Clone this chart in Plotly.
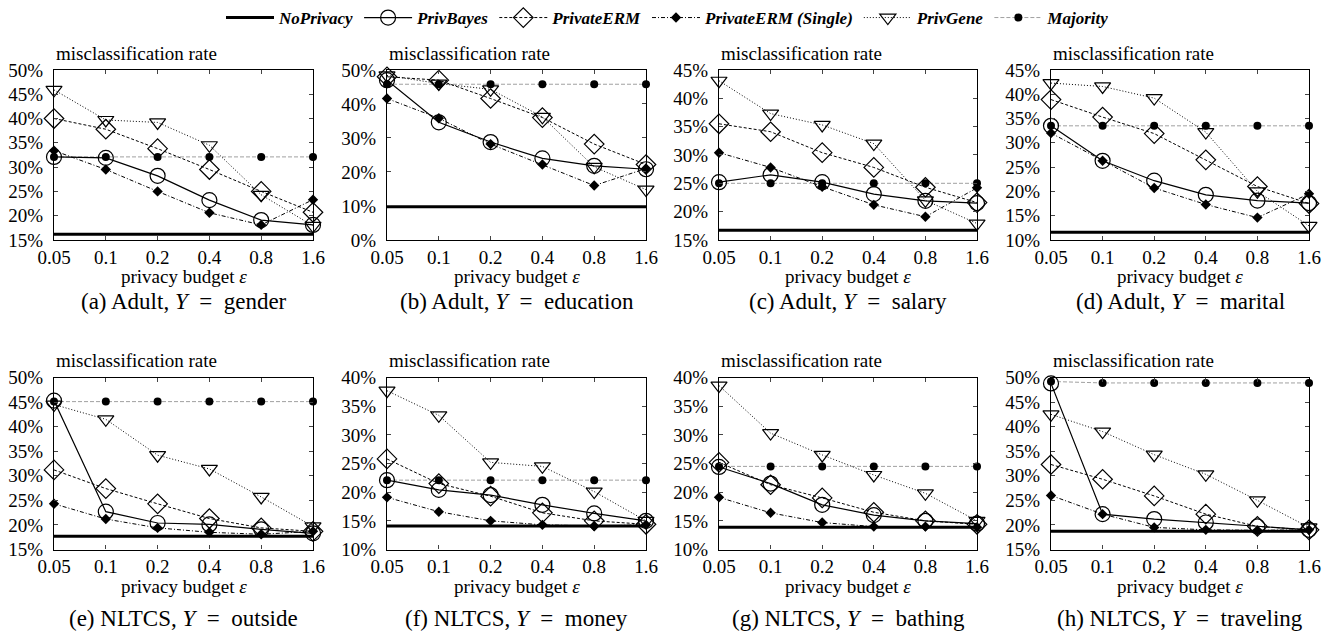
import plotly.graph_objects as go
import math

eps = [0.05, 0.1, 0.2, 0.4, 0.8, 1.6]
eps_labels = ["0.05", "0.1", "0.2", "0.4", "0.8", "1.6"]

SP = "\u2002"
captions = [
    "(a) Adult, <i>Y</i>" + SP + "=" + SP + "gender",
    "(b) Adult, <i>Y</i>" + SP + "=" + SP + "education",
    "(c) Adult, <i>Y</i>" + SP + "=" + SP + "salary",
    "(d) Adult, <i>Y</i>" + SP + "=" + SP + "marital",
    "(e) NLTCS, <i>Y</i>" + SP + "=" + SP + "outside",
    "(f) NLTCS, <i>Y</i>" + SP + "=" + SP + "money",
    "(g) NLTCS, <i>Y</i>" + SP + "=" + SP + "bathing",
    "(h) NLTCS, <i>Y</i>" + SP + "=" + SP + "traveling",
]

y_min = [15, 0, 15, 10, 15, 10, 10, 15]
y_max = [50, 50, 45, 45, 50, 40, 40, 50]
y_step = [5, 10, 5, 5, 5, 5, 5, 5]

no_privacy = [16.2, 9.8, 16.7, 11.6, 17.7, 14.1, 13.9, 18.7]

majority = [
    [32.1, 32.1, 32.1, 32.1, 32.1, 32.1],
    [45.8, 45.8, 45.8, 45.8, 45.8, 45.8],
    [25.0, 25.0, 25.0, 25.0, 25.0, 25.0],
    [33.5, 33.5, 33.5, 33.5, 33.5, 33.5],
    [45.1, 45.1, 45.1, 45.1, 45.1, 45.1],
    [22.1, 22.1, 22.1, 22.1, 22.1, 22.1],
    [24.5, 24.5, 24.5, 24.5, 24.5, 24.5],
    [49.2, 48.9, 48.9, 48.9, 48.9, 48.9],
]

privbayes = [
    [32.1, 31.9, 28.2, 23.2, 19.1, 18.1],
    [47.0, 34.6, 28.8, 24.0, 21.8, 20.8],
    [25.2, 26.5, 25.2, 23.1, 21.9, 21.5],
    [33.5, 26.3, 22.2, 19.3, 18.1, 17.6],
    [45.3, 22.7, 20.4, 20.1, 19.1, 18.3],
    [22.1, 20.4, 19.5, 17.8, 16.3, 15.0],
    [24.4, 21.5, 17.8, 16.0, 15.0, 14.5],
    [48.8, 22.2, 21.2, 20.5, 19.7, 19.0],
]

private_erm = [
    [40.0, 37.8, 33.8, 29.5, 25.0, 20.7],
    [48.0, 47.0, 41.6, 36.0, 28.2, 22.2],
    [35.5, 34.1, 30.4, 27.8, 24.3, 21.6],
    [38.9, 35.3, 31.9, 26.5, 21.0, 17.5],
    [31.2, 27.4, 24.3, 21.3, 19.4, 18.7],
    [25.8, 21.5, 19.3, 16.4, 15.0, 14.4],
    [25.2, 21.3, 19.0, 16.5, 15.0, 14.4],
    [32.3, 29.3, 25.9, 22.2, 19.7, 19.0],
]

private_erm_single = [
    [33.4, 29.5, 25.0, 20.6, 18.1, 23.3],
    [41.6, 35.8, 28.2, 22.2, 16.0, 21.0],
    [30.4, 27.8, 24.4, 21.2, 19.1, 24.2],
    [32.0, 26.3, 20.7, 17.3, 14.6, 19.5],
    [24.3, 21.2, 19.4, 18.5, 18.1, 18.7],
    [19.1, 16.6, 15.0, 14.3, 14.1, 14.3],
    [19.1, 16.4, 14.7, 14.0, 14.0, 13.9],
    [26.0, 22.2, 19.5, 19.0, 18.9, 19.0],
]

privgene = [
    [45.9, 39.7, 39.2, 34.5, 24.3, 17.9],
    [48.4, 46.0, 44.3, 36.2, 21.5, 14.8],
    [43.1, 37.3, 35.3, 32.0, 22.0, 17.9],
    [42.3, 41.6, 39.2, 32.2, 20.0, 12.9],
    [44.5, 41.5, 34.2, 31.4, 25.7, 19.7],
    [37.7, 33.4, 25.2, 24.5, 20.1, 15.0],
    [38.6, 30.3, 26.5, 23.0, 19.8, 15.0],
    [42.5, 39.0, 34.3, 30.3, 25.0, 19.5],
]

W, H = 1336, 635
col_x = [(54, 313), (387, 646), (719, 977), (1051, 1309)]
row_y = [(60, 233), (373, 548)]
xlabel_off = [37, 38]
caption_off = [63, 70]

FONT = "Liberation Serif, Times New Roman, serif"

fig = go.Figure()

def leg(name):
    return "<b><i>" + name + "</i></b>"

for i in range(8):
    r, c = divmod(i, 4)
    ax = "" if i == 0 else str(i + 1)
    xa, ya = "x" + ax, "y" + ax
    show = (i == 0)
    fig.add_trace(go.Scatter(x=eps, y=[no_privacy[i]] * 6, mode="lines",
                             line=dict(color="black", width=3),
                             name=leg("NoPrivacy"), showlegend=show, legendrank=1,
                             xaxis=xa, yaxis=ya, cliponaxis=False))
    fig.add_trace(go.Scatter(x=eps, y=majority[i], mode="lines+markers",
                             line=dict(color="#a0a0a0", width=1, dash="4px,2px"),
                             marker=dict(symbol="circle", size=8, color="black"),
                             name=leg("Majority"), showlegend=show, legendrank=6,
                             xaxis=xa, yaxis=ya, cliponaxis=False))
    fig.add_trace(go.Scatter(x=eps, y=privgene[i], mode="lines+markers",
                             line=dict(color="black", width=1, dash="1px,2px"),
                             marker=dict(symbol="triangle-down-open", size=14, color="black",
                                         line=dict(width=1.2)),
                             name=leg("PrivGene"), showlegend=show, legendrank=5,
                             xaxis=xa, yaxis=ya, cliponaxis=False))
    fig.add_trace(go.Scatter(x=eps, y=private_erm_single[i], mode="lines+markers",
                             line=dict(color="black", width=1, dash="4px,2px,1px,2px"),
                             marker=dict(symbol="diamond", size=8, color="black"),
                             name=leg("PrivateERM (Single)"), showlegend=show, legendrank=4,
                             xaxis=xa, yaxis=ya, cliponaxis=False))
    fig.add_trace(go.Scatter(x=eps, y=private_erm[i], mode="lines+markers",
                             line=dict(color="black", width=1, dash="3px,2px"),
                             marker=dict(symbol="diamond-open", size=15, color="black",
                                         line=dict(width=1.2)),
                             name=leg("PrivateERM"), showlegend=show, legendrank=3,
                             xaxis=xa, yaxis=ya, cliponaxis=False))
    fig.add_trace(go.Scatter(x=eps, y=privbayes[i], mode="lines+markers",
                             line=dict(color="black", width=1.2),
                             marker=dict(symbol="circle-open", size=15, color="black",
                                         line=dict(width=1.2)),
                             name=leg("PrivBayes"), showlegend=show, legendrank=2,
                             xaxis=xa, yaxis=ya, cliponaxis=False))

    x0, x1 = col_x[c]
    y0, y1 = row_y[r]
    xdom = [x0 / W, x1 / W]
    ydom = [1 - y1 / H, 1 - y0 / H]
    tv = list(range(y_min[i], y_max[i] + 1, y_step[i]))
    fig.layout["xaxis" + ax] = dict(
        domain=xdom, anchor=ya, type="log", automargin=False,
        range=[math.log10(eps[0]), math.log10(eps[-1])],
        tickvals=eps, ticktext=eps_labels, ticks="inside", ticklen=4,
        mirror="ticks", showline=True, linecolor="black", linewidth=1.2,
        showgrid=False, zeroline=False, ticklabelstandoff=0,
        tickfont=dict(family=FONT, size=19, color="black"),
    )
    fig.layout["yaxis" + ax] = dict(
        domain=ydom, anchor=xa, range=[y_min[i], y_max[i]], automargin=False,
        tickvals=tv, ticktext=[f"{v}%" for v in tv], ticks="inside", ticklen=4,
        mirror="ticks", showline=True, linecolor="black", linewidth=1.2,
        showgrid=False, zeroline=False, ticklabelstandoff=6,
        tickfont=dict(family=FONT, size=19, color="black"),
    )
    fig.add_annotation(text="misclassification rate", xref="paper", yref="paper",
                       x=x0 / W, y=1 - (y0 - 17) / H, xanchor="left", yanchor="middle",
                       showarrow=False, font=dict(family=FONT, size=19, color="black"))
    fig.add_annotation(text="privacy budget <i>ε</i>", xref="paper", yref="paper",
                       x=(x0 + x1) / 2 / W, y=1 - (y1 + xlabel_off[r]) / H, xanchor="center",
                       yanchor="middle", showarrow=False,
                       font=dict(family=FONT, size=19, color="black"))
    fig.add_annotation(text=captions[i], xref="paper", yref="paper",
                       x=(x0 + x1) / 2 / W, y=1 - (y1 + caption_off[r]) / H, xanchor="center",
                       yanchor="middle", showarrow=False,
                       font=dict(family=FONT, size=23, color="black"))

fig.update_layout(
    width=W, height=H, autosize=False,
    margin=dict(l=0, r=0, t=0, b=0),
    plot_bgcolor="white", paper_bgcolor="white",
    showlegend=True,
    legend=dict(orientation="h", x=0.5, xanchor="center", y=1 - 7 / H, yanchor="middle",
                font=dict(family=FONT, size=17, color="black"),
                itemwidth=48, tracegroupgap=0, bgcolor="rgba(0,0,0,0)",
                traceorder="normal"),
)

fig.write_html("out.html")
